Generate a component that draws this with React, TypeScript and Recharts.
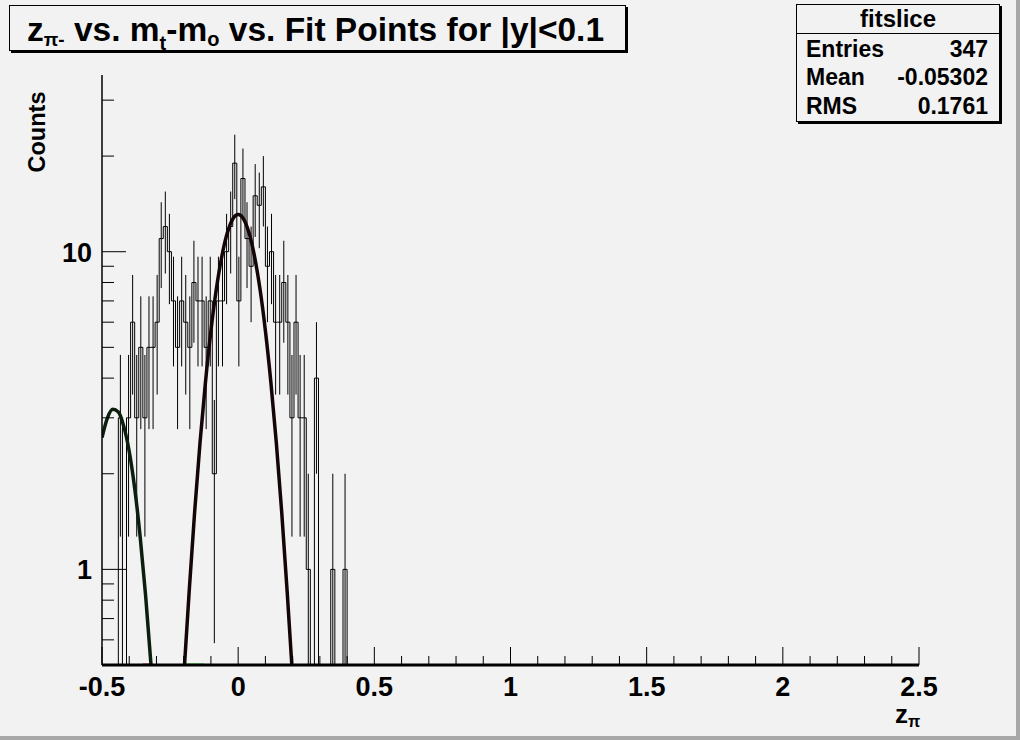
import React from 'react'
import { ComposedChart, Line, Scatter, ErrorBar, XAxis, YAxis } from 'recharts'

const FONT = '"Liberation Sans", Arial, Helvetica, sans-serif'
const BG = '#f2f2f2'

// histogram binning: 200 bins over [-0.5, 2.5]
const BIN_START = -0.5
const BIN_WIDTH = 0.015
const BIN_COUNT = 200

// counts per bin (bins past the listed ones are empty)
const binCounts = [
  0, 0, 0, 0, 3, 0, 3, 6, 3, 5,
  3, 5, 5, 6, 11, 12, 10, 7, 5, 7,
  6, 5, 8, 7, 7, 5, 7, 2, 7, 7,
  10, 12, 19, 7, 17, 11, 9, 15, 14, 16,
  9, 10, 6, 6, 8, 6, 3, 6, 3, 3,
  1, 0, 4, 0, 0, 0, 1, 0, 0, 1,
]

// fitted peak near -0.46
const fit1X = [-0.5, -0.48, -0.46, -0.44, -0.42, -0.4, -0.38, -0.36, -0.34, -0.32]
const fit1Y = [2.6, 3.0, 3.19, 3.13, 2.82, 2.35, 1.8, 1.27, 0.83, 0.5]

// fitted peak near 0
const fit2X = [-0.197, -0.18, -0.16, -0.14, -0.12, -0.1, -0.08, -0.06, -0.04, -0.02, 0,
  0.02, 0.04, 0.06, 0.08, 0.1, 0.12, 0.14, 0.16, 0.18, 0.197]
const fit2Y = [0.5, 0.85, 1.51, 2.51, 3.89, 5.64, 7.64, 9.67, 11.45, 12.67, 13.1,
  12.67, 11.45, 9.67, 7.64, 5.64, 3.89, 2.51, 1.51, 0.85, 0.5]

// short coloured pieces of the other fit curves peeking out at the bottom
const redPieceX = [-0.35, -0.315]
const greenPieceX = [-0.195, -0.125]

const xMajorTicks = [-0.5, 0, 0.5, 1, 1.5, 2, 2.5]
const xAllTicks = [
  -0.5, -0.4, -0.3, -0.2, -0.1, 0, 0.1, 0.2, 0.3, 0.4, 0.5, 0.6, 0.7, 0.8, 0.9, 1,
  1.1, 1.2, 1.3, 1.4, 1.5, 1.6, 1.7, 1.8, 1.9, 2, 2.1, 2.2, 2.3, 2.4, 2.5,
]
const yMajorTicks = [1, 10]
const yAllTicks = [0.6, 0.7, 0.8, 0.9, 1, 2, 3, 4, 5, 6, 7, 8, 9, 10, 20, 30]
const Y_MIN = 0.5
const Y_MAX = 36

const statLabels = ['Entries', 'Mean', 'RMS']
const statValues = ['347', '-0.05302', '0.1761']

const outline = Array.from({ length: BIN_COUNT + 1 }, (_, i) => {
  const n = binCounts[Math.min(i, BIN_COUNT - 1)] ?? 0
  return { x: BIN_START + i * BIN_WIDTH, y: Math.max(n, Y_MIN) }
})

const errPoints = binCounts
  .map((n, i) => ({ n, i }))
  .filter((d) => d.n > 0)
  .map(({ n, i }) => {
    const s = Math.sqrt(n)
    return { x: BIN_START + (i + 0.5) * BIN_WIDTH, y: n, err: [n - Math.max(n - s, Y_MIN), s] }
  })

const fit1 = fit1X.map((x, i) => ({ x, y: fit1Y[i] }))
const fit2 = fit2X.map((x, i) => ({ x, y: fit2Y[i] }))
const redPiece = redPieceX.map((x) => ({ x, y: Y_MIN }))
const greenPiece = greenPieceX.map((x) => ({ x, y: Y_MIN }))

const near = (a: number, b: number) => Math.abs(a - b) < 1e-6

function XTick(props: any) {
  const { x, y, payload } = props
  const v = payload.value as number
  const major = xMajorTicks.some((m) => near(m, v))
  return (
    <g>
      <line x1={x} x2={x} y1={y} y2={y - (major ? 18 : 9)} stroke="#000" />
      {major && (
        <text x={x} y={y + 31} textAnchor="middle" fontSize={27} fontWeight="bold" fontFamily={FONT} fill="#000">
          {String(Number(v.toFixed(1)))}
        </text>
      )}
    </g>
  )
}

function YTick(props: any) {
  const { x, y, payload } = props
  const v = payload.value as number
  const major = yMajorTicks.some((m) => near(m, v))
  return (
    <g>
      <line x1={x} x2={x + (major ? 24 : 12)} y1={y} y2={y} stroke="#000" />
      {major && (
        <text x={x - 10} y={y + 10} textAnchor="end" fontSize={27} fontWeight="bold" fontFamily={FONT} fill="#000">
          {String(v)}
        </text>
      )}
    </g>
  )
}

export default function App() {
  return (
    <div style={{ position: 'absolute', left: 0, top: 0, width: 1020, height: 740, background: BG, overflow: 'hidden' }}>
      <ComposedChart width={1020} height={740} margin={{ top: 75, right: 101, bottom: 0, left: 0 }}>
        <XAxis
          dataKey="x"
          type="number"
          domain={[-0.5, 2.5]}
          ticks={xAllTicks}
          interval={0}
          allowDataOverflow
          height={75}
          tickSize={0}
          tickMargin={0}
          tickLine={false}
          tick={XTick}
          axisLine={{ stroke: '#000', strokeWidth: 3 }}
        />
        <XAxis xAxisId="top" orientation="top" type="number" domain={[-0.5, 2.5]} height={0} tick={false} tickLine={false} axisLine={{ stroke: '#000' }} />
        <YAxis
          type="number"
          scale="log"
          domain={[Y_MIN, Y_MAX]}
          allowDataOverflow
          ticks={yAllTicks}
          interval={0}
          width={102}
          tickSize={0}
          tickMargin={0}
          tickLine={false}
          tick={YTick}
          axisLine={{ stroke: '#000', strokeWidth: 1.5 }}
        />
        <YAxis yAxisId="right" orientation="right" type="number" domain={[0, 1]} width={0} tick={false} tickLine={false} axisLine={{ stroke: '#000' }} />

        <Line data={outline} dataKey="y" type="stepAfter" stroke="#000" strokeWidth={1} dot={false} isAnimationActive={false} />
        <Scatter data={errPoints} dataKey="y" shape={() => <g />} isAnimationActive={false}>
          <ErrorBar dataKey="err" direction="y" width={0} stroke="#000" strokeWidth={1} isAnimationActive={false} />
        </Scatter>
        <Line data={redPiece} dataKey="y" stroke="#e0103a" strokeWidth={3} dot={false} isAnimationActive={false} />
        <Line data={greenPiece} dataKey="y" stroke="#22e022" strokeWidth={3} dot={false} isAnimationActive={false} />
        <Line data={fit1} dataKey="y" type="monotone" stroke="#0c1f0e" strokeWidth={3.5} dot={false} isAnimationActive={false} />
        <Line data={fit2} dataKey="y" type="monotone" stroke="#140606" strokeWidth={3.5} dot={false} isAnimationActive={false} />
      </ComposedChart>

      <svg width={1020} height={740} style={{ position: 'absolute', left: 0, top: 0, pointerEvents: 'none' }} fontFamily={FONT}>
        {/* title pave */}
        <rect x={11} y={7} width={617} height={46} fill="#000" />
        <rect x={9.5} y={5.5} width={616} height={45} fill={BG} stroke="#000" strokeWidth={1} />
        <text x={27} y={41} fontSize={33.5} fontWeight="bold" fill="#000">
          z<tspan fontSize={19} dy={5}>π-</tspan>
          <tspan dy={-5}> vs. m</tspan>
          <tspan fontSize={20} dy={9}>t</tspan>
          <tspan dy={-9}>-m</tspan>
          <tspan fontSize={20} dy={5}>o</tspan>
          <tspan dy={-5}> vs. Fit Points for |y|&lt;0.1</tspan>
        </text>

        {/* stats box */}
        <rect x={798} y={6} width={204} height={118} fill="#000" />
        <rect x={796.5} y={4.5} width={203} height={117} fill={BG} stroke="#000" strokeWidth={1} />
        <line x1={796.5} x2={999.5} y1={33.5} y2={33.5} stroke="#000" />
        <text x={898} y={27} textAnchor="middle" fontSize={24} fontWeight="bold" fill="#000">fitslice</text>
        {statLabels.map((s, i) => (
          <g key={s}>
            <text x={806} y={57 + i * 28.3} fontSize={23} fontWeight="bold" fill="#000">{s}</text>
            <text x={988} y={57 + i * 28.3} textAnchor="end" fontSize={23} fontWeight="bold" fill="#000">{statValues[i]}</text>
          </g>
        ))}

        {/* axis titles */}
        <text x={45} y={132} transform="rotate(-90 45 132)" textAnchor="middle" fontSize={23.5} fontWeight="bold" fill="#000">Counts</text>
        <text x={895} y={723} fontSize={26} fontWeight="bold" fill="#000">
          z<tspan fontSize={16} dy={4}>π</tspan>
        </text>

        {/* canvas border */}
        <rect x={1016} y={0} width={4} height={740} fill="#a8a8a8" />
        <rect x={0} y={736} width={1020} height={4} fill="#a8a8a8" />
      </svg>
    </div>
  )
}
